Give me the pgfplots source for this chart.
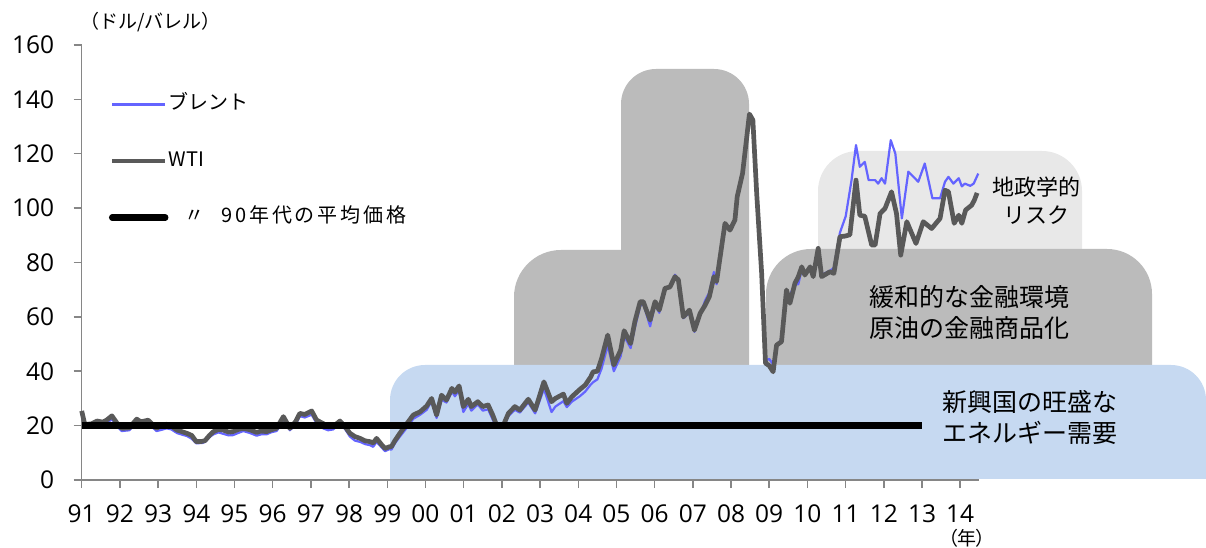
\documentclass[border=0pt]{standalone}
\usepackage{pgfplots}
\usepackage{pgfplotstable}
\pgfplotsset{compat=1.18}
\usepackage{fontspec}
\setmainfont{Noto Sans CJK JP}
\newfontfamily\tickfont{Open Sans}
\newfontfamily\jpp[RawFeature=+palt]{Noto Sans CJK JP}
\newfontfamily\jls[LetterSpace=14]{Noto Sans CJK JP}
\definecolor{brent}{RGB}{100,100,255}
\definecolor{wti}{RGB}{89,89,89}
\definecolor{axisgray}{RGB}{134,134,134}
\definecolor{bluefill}{RGB}{198,217,241}
\definecolor{grayfill}{RGB}{187,187,187}
\definecolor{lgrayfill}{RGB}{232,232,232}

\pgfplotstableread{
x y
1991.00 25.4
1991.08 20.5
1991.25 20.6
1991.40 21.7
1991.55 21.3
1991.65 22.0
1991.79 23.6
1991.92 21.0
1992.05 19.0
1992.25 19.2
1992.44 22.4
1992.55 21.4
1992.74 22.0
1992.96 19.0
1993.10 20.2
1993.22 20.5
1993.35 19.8
1993.49 18.4
1993.62 17.8
1993.75 17.2
1993.88 16.4
1994.00 14.1
1994.15 14.2
1994.23 14.5
1994.35 16.5
1994.45 17.8
1994.58 18.6
1994.70 18.4
1994.85 17.6
1994.96 17.8
1995.10 18.6
1995.23 19.0
1995.40 18.5
1995.58 17.5
1995.70 18.0
1995.84 17.8
1995.97 18.5
1996.10 19.0
1996.28 23.3
1996.45 19.0
1996.60 21.5
1996.71 24.5
1996.84 24.1
1997.02 25.4
1997.15 22.0
1997.32 20.8
1997.45 19.6
1997.58 19.6
1997.76 21.7
1997.90 19.5
1998.02 17.2
1998.15 16.0
1998.29 15.3
1998.42 14.4
1998.55 14.1
1998.63 13.6
1998.72 15.3
1998.85 13.0
1998.94 11.6
1999.05 12.2
1999.11 12.3
1999.20 14.5
1999.33 17.2
1999.50 20.5
1999.68 23.9
1999.86 25.1
2000.03 27.2
2000.16 30.0
2000.29 23.9
2000.42 31.2
2000.55 29.4
2000.69 33.7
2000.77 32.3
2000.88 34.6
2000.99 27.0
2001.12 29.7
2001.20 27.0
2001.37 28.8
2001.50 27.0
2001.64 27.6
2001.76 23.9
2001.86 20.2
2002.04 20.2
2002.17 24.5
2002.34 27.0
2002.47 25.7
2002.69 29.7
2002.87 25.7
2003.10 36.1
2003.30 28.8
2003.40 30.0
2003.61 31.6
2003.70 28.2
2003.83 30.6
2004.04 33.3
2004.18 34.9
2004.32 37.8
2004.39 39.8
2004.50 40.0
2004.61 44.7
2004.77 53.3
2004.93 42.3
2005.11 47.8
2005.20 54.9
2005.37 50.2
2005.48 58.2
2005.62 65.6
2005.70 65.6
2005.88 58.8
2006.01 65.6
2006.12 62.5
2006.27 70.5
2006.40 71.0
2006.53 74.8
2006.62 73.6
2006.75 60.0
2006.91 62.5
2007.04 55.1
2007.19 61.3
2007.32 64.3
2007.43 67.4
2007.55 74.8
2007.62 73.0
2007.84 94.4
2007.97 91.9
2008.10 95.6
2008.16 104.2
2008.30 112.8
2008.48 134.6
2008.57 132.4
2008.67 105.4
2008.80 76.0
2008.90 43.0
2009.00 42.0
2009.10 39.8
2009.19 49.6
2009.32 50.9
2009.45 69.9
2009.54 65.0
2009.67 72.3
2009.76 74.8
2009.85 78.4
2009.93 75.4
2010.07 78.4
2010.15 74.8
2010.28 85.2
2010.37 74.8
2010.59 76.6
2010.69 76.0
2010.85 89.5
2010.98 89.7
2011.11 90.2
2011.27 110.3
2011.37 97.4
2011.50 97.0
2011.68 86.4
2011.77 86.4
2011.90 98.0
2012.03 99.9
2012.20 106.0
2012.33 98.0
2012.44 82.7
2012.60 95.0
2012.84 87.0
2013.03 95.0
2013.25 92.5
2013.47 96.2
2013.60 106.6
2013.69 106.0
2013.84 94.4
2013.96 97.4
2014.04 94.4
2014.14 99.3
2014.30 101.1
2014.37 103.0
2014.44 105.6
}\wtitable

\pgfplotstableread{
x y
1991.00 24.0
1991.08 19.6
1991.25 19.3
1991.40 20.3
1991.55 20.1
1991.65 20.8
1991.79 22.4
1991.92 19.8
1992.05 18.0
1992.25 18.3
1992.44 21.2
1992.55 20.1
1992.74 20.8
1992.96 18.0
1993.10 18.5
1993.22 19.0
1993.35 18.6
1993.49 17.3
1993.62 16.7
1993.75 16.2
1993.88 15.2
1994.00 13.5
1994.15 13.6
1994.23 14.0
1994.35 15.8
1994.45 16.8
1994.58 17.5
1994.70 17.0
1994.85 16.4
1994.96 16.5
1995.10 17.3
1995.23 18.0
1995.40 17.3
1995.58 16.3
1995.70 16.8
1995.84 16.8
1995.97 17.6
1996.10 18.0
1996.28 21.5
1996.45 18.3
1996.60 20.3
1996.71 23.5
1996.84 23.0
1997.02 24.0
1997.15 20.8
1997.32 19.0
1997.45 18.3
1997.58 18.6
1997.76 20.5
1997.90 18.6
1998.02 16.0
1998.15 14.5
1998.29 14.0
1998.42 13.2
1998.55 12.8
1998.63 12.2
1998.72 14.0
1998.85 12.0
1998.94 10.6
1999.05 11.3
1999.11 11.2
1999.20 13.5
1999.33 16.0
1999.50 19.0
1999.68 22.5
1999.86 24.0
2000.03 25.8
2000.16 29.0
2000.29 22.8
2000.42 29.5
2000.55 28.5
2000.69 32.5
2000.77 30.8
2000.88 33.0
2000.99 25.0
2001.12 28.0
2001.20 25.5
2001.37 27.8
2001.50 25.5
2001.64 26.0
2001.76 22.2
2001.86 19.2
2002.04 19.5
2002.17 23.5
2002.34 25.8
2002.47 24.8
2002.69 28.5
2002.87 24.5
2003.10 33.5
2003.30 25.0
2003.40 27.0
2003.61 29.0
2003.70 26.8
2003.83 28.8
2004.04 30.8
2004.18 32.5
2004.32 35.0
2004.39 36.0
2004.50 37.0
2004.61 41.0
2004.77 49.5
2004.93 40.0
2005.11 45.5
2005.20 53.0
2005.37 48.5
2005.48 56.0
2005.62 64.0
2005.70 65.0
2005.88 56.5
2006.01 64.5
2006.12 61.5
2006.27 70.5
2006.40 71.0
2006.53 75.5
2006.62 73.6
2006.75 59.5
2006.91 61.5
2007.04 54.5
2007.19 60.5
2007.32 66.0
2007.43 69.0
2007.55 76.5
2007.62 72.0
2007.84 93.5
2007.97 91.9
2008.10 95.6
2008.16 103.5
2008.30 112.0
2008.48 134.0
2008.57 133.0
2008.67 104.5
2008.80 75.0
2008.90 44.0
2009.00 44.5
2009.10 42.5
2009.19 49.0
2009.32 52.0
2009.45 69.0
2009.54 68.0
2009.67 72.0
2009.76 72.0
2009.85 77.5
2009.93 76.0
2010.07 77.5
2010.15 76.5
2010.28 85.5
2010.37 75.5
2010.59 77.0
2010.69 78.0
2010.85 91.0
2011.00 97.0
2011.15 110.0
2011.27 123.2
2011.37 115.2
2011.50 117.0
2011.60 110.3
2011.77 110.3
2011.85 109.0
2011.94 111.0
2012.03 109.0
2012.18 125.0
2012.30 120.0
2012.47 96.2
2012.64 113.4
2012.90 109.7
2013.07 116.4
2013.27 103.6
2013.47 103.6
2013.60 109.7
2013.69 111.5
2013.82 109.0
2013.96 111.0
2014.04 108.0
2014.12 109.0
2014.26 108.2
2014.35 109.0
2014.47 112.7
}\brenttable

\begin{document}
\begin{tikzpicture}[x=1pt,y=1pt]
\useasboundingbox (0,0) rectangle (1206,548);
% background annotation shapes
\fill[lgrayfill] (818,183) -- (818,357) arc[start angle=180,end angle=90,radius=40] -- (1042,397) arc[start angle=90,end angle=0,radius=40] -- (1082,183) -- cycle;
\fill[grayfill] (766,183) -- (766,254) arc[start angle=180,end angle=90,radius=45] -- (1107,299) arc[start angle=90,end angle=0,radius=45] -- (1152,183) -- cycle;
\fill[grayfill] (514,183) -- (514,251) arc[start angle=180,end angle=90,radius=47] -- (621,298) -- (621,444) arc[start angle=180,end angle=90,radius=35] -- (714,479) arc[start angle=90,end angle=0,radius=35] -- (749,183) -- cycle;
\fill[bluefill] (390,69) -- (390,148) arc[start angle=180,end angle=90,radius=35] -- (1171,183) arc[start angle=90,end angle=0,radius=35] -- (1206,69) -- cycle;

\begin{axis}[
  at={(81.7pt,68pt)}, anchor=south west,
  scale only axis, width=897.3pt, height=435pt,
  xmin=1991, xmax=2014.49, ymin=0, ymax=160,
  axis x line*=bottom, axis y line*=left,
  axis line style={draw=axisgray, line width=1.5pt},
  tick style={draw=axisgray, line width=1.5pt},
  tick align=outside, major tick length=8pt,
  xtick={1991,1992,...,2014},
  xticklabels={91,92,93,94,95,96,97,98,99,00,01,02,03,04,05,06,07,08,09,10,11,12,13,14},
  ytick={0,20,...,160},
  tick label style={font=\tickfont\fontsize{24.5}{28}\selectfont},
  xticklabel style={yshift=-13pt},
  yticklabel style={xshift=-16pt},
  /pgf/number format/assume math mode=true,
  clip=false,
  legend style={at={(axis description cs:0.0304,0.886)}, anchor=north west,
    draw=none, fill=none, inner sep=0pt, outer sep=0pt,
    font=\fontsize{20}{24}\selectfont,
    nodes={inner sep=0pt, text height=15pt, text depth=5pt},
    row sep=36.5pt, column sep=0pt},
  legend cell align=left,
  legend image code/.code={\draw[#1] (0pt,0pt) -- (53pt,0pt);},
]
\addplot[brent, line width=2.2pt, line join=round] table[x=x,y=y]{\brenttable};
\addplot[wti, line width=4.7pt, line join=round] table[x=x,y=y]{\wtitable};
\addplot[black, line width=6.5pt, legend image post style={line cap=round}] coordinates {(1991,20) (2013,20)};
\legend{ブレント, WTI, \hspace{16pt}〃\hspace{17pt}{\jls 90年代の平均価格}}
\end{axis}

% annotation texts
\node[anchor=west, inner sep=0pt, font=\fontsize{19}{22}\selectfont] at (80,526) {（ドル/バレル）};
\node[inner sep=0pt, font=\jpp\fontsize{19}{22}\selectfont] at (967,10) {（年）};
\node[inner sep=0pt, font=\fontsize{22}{26}\selectfont] at (1036,361) {地政学的};
\node[inner sep=0pt, font=\fontsize{22}{26}\selectfont] at (1036,333) {リスク};
\node[anchor=west, inner sep=0pt, font=\fontsize{25}{30}\selectfont] at (869,251.3) {緩和的な金融環境};
\node[anchor=west, inner sep=0pt, font=\fontsize{25}{30}\selectfont] at (869,219.7) {原油の金融商品化};
\node[anchor=west, inner sep=0pt, font=\fontsize{25}{30}\selectfont] at (942.7,145.7) {新興国の旺盛な};
\node[anchor=west, inner sep=0pt, font=\fontsize{25}{30}\selectfont] at (942.7,114.7) {エネルギー需要};
\end{tikzpicture}
\end{document}
